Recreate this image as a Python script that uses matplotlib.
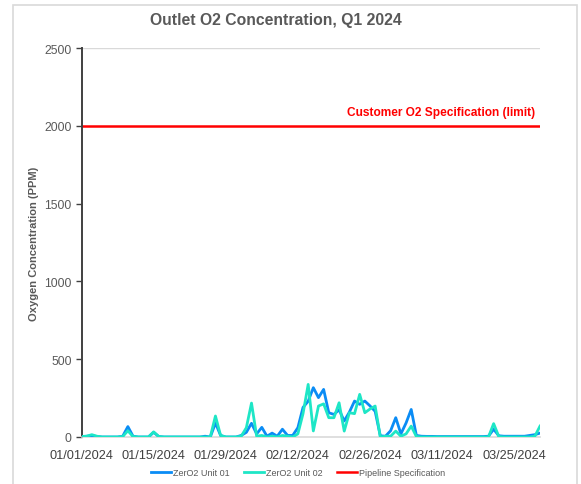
import matplotlib
matplotlib.use("Agg")
import matplotlib.pyplot as plt
import matplotlib.patches as mpatches
import pandas as pd
import numpy as np

plt.rcParams['font.family'] = ['Liberation Sans', 'DejaVu Sans']

# ---- data ----
start_date = "2024-01-01"
unit01 = [3, 5, 8, 3, 0, 0, 0, 0, 5, 67,
          5, 0, 0, 0, 30, 3, 0, 0, 0, 0,
          0, 0, 0, 0, 5, 0, 90, 10, 0, 0,
          0, 10, 30, 88, 20, 62, 5, 25, 5, 50,
          10, 10, 60, 190, 230, 317, 253, 306, 156, 145,
          175, 103, 160, 231, 210, 231, 200, 165, 8, 5,
          40, 124, 20, 90, 177, 10, 5, 4, 4, 3,
          3, 3, 3, 3, 3, 3, 3, 3, 3, 5,
          50, 8, 5, 5, 5, 5, 5, 10, 15, 25]
unit02 = [3, 5, 15, 5, 0, 0, 0, 0, 3, 40,
          3, 0, 0, 0, 33, 3, 0, 0, 0, 0,
          0, 0, 0, 0, 0, 0, 135, 10, 0, 0,
          0, 5, 60, 218, 5, 10, 0, 5, 0, 10,
          5, 0, 20, 150, 338, 39, 199, 213, 124, 124,
          220, 38, 156, 150, 274, 156, 180, 199, 0, 5,
          5, 38, 5, 20, 70, 3, 0, 0, 0, 0,
          0, 0, 0, 0, 0, 0, 0, 0, 0, 0,
          86, 3, 0, 0, 0, 0, 0, 0, 5, 70]
spec_limit = 2000
tick_dates = ["2024-01-01", "2024-01-15", "2024-01-29", "2024-02-12",
              "2024-02-26", "2024-03-11", "2024-03-25"]
tick_labels = ["01/01/2024", "01/15/2024", "01/29/2024", "02/12/2024",
               "02/26/2024", "03/11/2024", "03/25/2024"]
y_ticks = [0, 500, 1000, 1500, 2000, 2500]

dates = pd.date_range(start_date, periods=len(unit01), freq="D")

fig = plt.figure(figsize=(5.81, 4.85), dpi=100)
ax = fig.add_axes([81.5/581, 1-438/485, (540-81.5)/581, (438-49)/485])

# border around chart
fig.patches.append(mpatches.Rectangle((13/581, -0.02), (577-13)/581, 0.02+1-6/485,
                                      transform=fig.transFigure, fill=False,
                                      edgecolor="#d9d9d9", linewidth=1.2))

blue = "#0A8CF5"
cyan = "#1EE6C6"
red = "#FF0000"
gray = "#595959"

l1, = ax.plot(dates, unit01, color=blue, lw=2.0, solid_joinstyle="round", zorder=3)
l2, = ax.plot(dates, unit02, color=cyan, lw=2.0, solid_joinstyle="round", zorder=4)
l3, = ax.plot([dates[0], dates[-1]], [spec_limit, spec_limit], color=red, lw=1.8, zorder=2)

ax.set_xlim(dates[0], dates[-1])
ax.set_ylim(0, 2500)
ax.set_yticks(y_ticks)
ax.set_yticklabels([str(v) for v in y_ticks], fontsize=8.7, color=gray)
ax.set_xticks(pd.to_datetime(tick_dates))
ax.set_xticklabels(tick_labels, fontsize=9.2, color="#404040")
ax.tick_params(axis="x", length=0, pad=9)
ax.tick_params(axis="y", length=4, width=1, color="#404040", direction="out", pad=3)

for s in ["top", "right"]:
    ax.spines[s].set_visible(False)
ax.spines["left"].set_color("#404040")
ax.spines["left"].set_linewidth(1.4)
ax.spines["bottom"].set_color("#d9d9d9")
ax.spines["bottom"].set_linewidth(1.2)
ax.axhline(2500, color="#d9d9d9", lw=1.0, zorder=1)

ax.set_ylabel("Oxygen Concentration (PPM)", fontsize=8, fontweight="bold", color=gray, labelpad=4)

ax.text(0.99, spec_limit + 50, "Customer O2 Specification (limit)", transform=ax.get_yaxis_transform(),
        ha="right", va="bottom", color=red, fontsize=8.6, fontweight="bold")

fig.text(276/581, 1-20/485, "Outlet O2 Concentration, Q1 2024", ha="center", va="center",
         fontsize=11.3, fontweight="bold", color=gray)

fig.legend([l1, l2, l3], ["ZerO2 Unit 01", "ZerO2 Unit 02", "Pipeline Specification"],
           loc="center", bbox_to_anchor=(298/581, 1-474/485), ncol=3, frameon=False,
           fontsize=6.5, handlelength=2.2, handletextpad=0.2, columnspacing=1.6,
           labelcolor=gray)

fig.savefig("out.png", dpi=100)
